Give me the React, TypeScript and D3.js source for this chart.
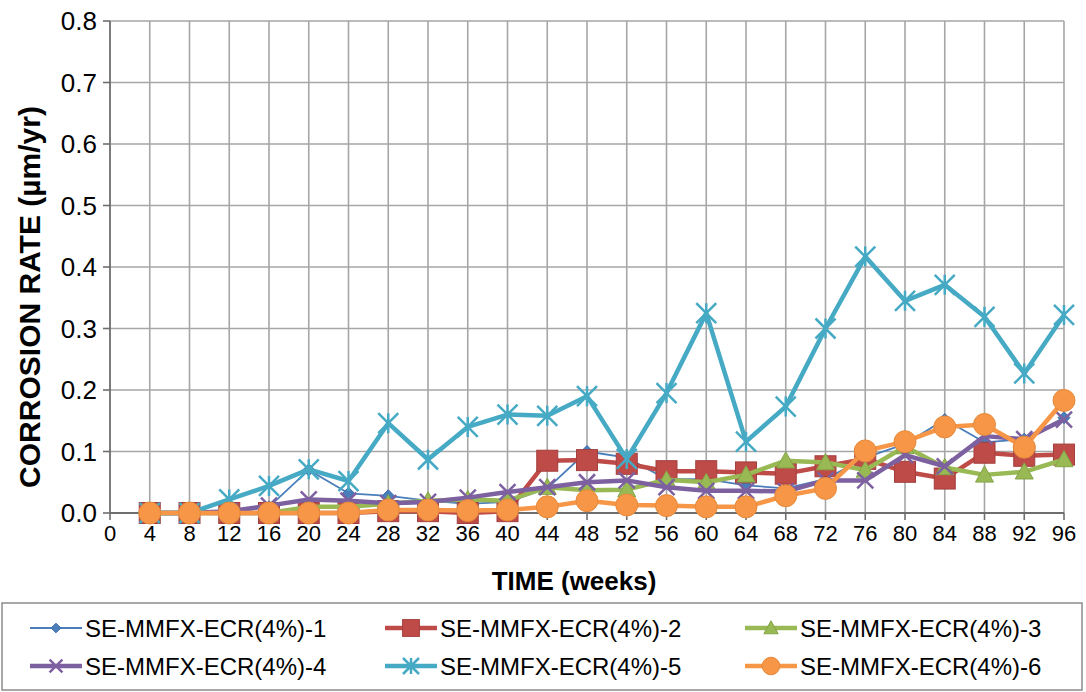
import React from "react";
import * as d3 from "d3";

const weeks = [4, 8, 12, 16, 20, 24, 28, 32, 36, 40, 44, 48, 52, 56, 60, 64, 68, 72, 76, 80, 84, 88, 92, 96];
const s1 = [0, 0, 0, 0.01, 0.07, 0.032, 0.028, 0.02, 0.015, 0.018, 0.04, 0.1, 0.09, 0.055, 0.055, 0.045, 0.04, 0.055, 0.09, 0.112, 0.152, 0.115, 0.12, 0.155];
const s2 = [0, 0, 0, 0, 0, 0, 0.003, 0.003, 0, 0.003, 0.085, 0.086, 0.08, 0.068, 0.068, 0.066, 0.064, 0.076, 0.088, 0.067, 0.056, 0.098, 0.093, 0.095];
const s3 = [0, 0, 0, 0, 0.01, 0.01, 0.015, 0.02, 0.022, 0.02, 0.042, 0.037, 0.038, 0.054, 0.05, 0.062, 0.085, 0.082, 0.07, 0.108, 0.074, 0.062, 0.067, 0.087];
const s4 = [0, 0, 0.003, 0.012, 0.022, 0.02, 0.016, 0.018, 0.025, 0.034, 0.042, 0.05, 0.053, 0.042, 0.036, 0.036, 0.035, 0.053, 0.053, 0.094, 0.076, 0.125, 0.12, 0.152];
const s5 = [0, 0, 0.022, 0.044, 0.071, 0.052, 0.146, 0.087, 0.14, 0.16, 0.158, 0.19, 0.088, 0.195, 0.325, 0.116, 0.173, 0.3, 0.417, 0.345, 0.371, 0.319, 0.227, 0.322];
const s6 = [0, 0, 0, 0, 0, 0, 0.005, 0.005, 0.004, 0.005, 0.01, 0.02, 0.013, 0.012, 0.01, 0.01, 0.028, 0.04, 0.101, 0.116, 0.14, 0.144, 0.107, 0.183];

const seriesNames = [
  "SE-MMFX-ECR(4%)-1",
  "SE-MMFX-ECR(4%)-2",
  "SE-MMFX-ECR(4%)-3",
  "SE-MMFX-ECR(4%)-4",
  "SE-MMFX-ECR(4%)-5",
  "SE-MMFX-ECR(4%)-6",
];
const seriesValues = [s1, s2, s3, s4, s5, s6];
const xTicks = [0, 4, 8, 12, 16, 20, 24, 28, 32, 36, 40, 44, 48, 52, 56, 60, 64, 68, 72, 76, 80, 84, 88, 92, 96];
const yTicks = [0, 0.1, 0.2, 0.3, 0.4, 0.5, 0.6, 0.7, 0.8];

type Style = { color: string; edge: string; width: number; marker: string; size: number };
const styles: Style[] = [
  { color: "#4A7EBB", edge: "#3A6AA6", width: 1.8, marker: "diamond", size: 12 },
  { color: "#BE4B48", edge: "#A33F3C", width: 4.5, marker: "square", size: 21 },
  { color: "#98B954", edge: "#84A447", width: 4.5, marker: "triangle", size: 18 },
  { color: "#7D60A0", edge: "#7D60A0", width: 4.5, marker: "x", size: 16 },
  { color: "#46AAC5", edge: "#3E9DB7", width: 4.5, marker: "star", size: 20 },
  { color: "#F79646", edge: "#E58A3C", width: 4.5, marker: "circle", size: 22 },
];

const FONT = "Arial, 'Liberation Sans', Helvetica, sans-serif";

function Marker({ cx, cy, st }: { cx: number; cy: number; st: Style }) {
  const h = st.size / 2;
  if (st.marker === "diamond") {
    return <path d={`M${cx},${cy - h}L${cx + h},${cy}L${cx},${cy + h}L${cx - h},${cy}Z`} fill={st.color} stroke={st.edge} strokeWidth={1} />;
  }
  if (st.marker === "square") {
    return <rect x={cx - h} y={cy - h} width={st.size} height={st.size} fill={st.color} stroke={st.edge} strokeWidth={1} />;
  }
  if (st.marker === "triangle") {
    return <path d={`M${cx},${cy - h}L${cx + h},${cy + h * 0.8}L${cx - h},${cy + h * 0.8}Z`} fill={st.color} stroke={st.edge} strokeWidth={1} />;
  }
  if (st.marker === "x") {
    return <path d={`M${cx - h},${cy - h}L${cx + h},${cy + h}M${cx - h},${cy + h}L${cx + h},${cy - h}`} stroke={st.color} strokeWidth={2.5} fill="none" />;
  }
  if (st.marker === "star") {
    return <path d={`M${cx - h},${cy - h}L${cx + h},${cy + h}M${cx - h},${cy + h}L${cx + h},${cy - h}M${cx},${cy - h}L${cx},${cy + h}`} stroke={st.color} strokeWidth={2.5} fill="none" />;
  }
  return <circle cx={cx} cy={cy} r={h} fill={st.color} stroke={st.edge} strokeWidth={1} />;
}

export default function App() {
  const W = 1086;
  const H = 692;
  const left = 110;
  const right = 1064;
  const top = 21;
  const bottom = 513;

  const x = d3.scaleLinear().domain([0, 96]).range([left, right]);
  const y = d3.scaleLinear().domain([0, 0.8]).range([bottom, top]);

  const line = d3
    .line<number>()
    .x((_, i) => x(weeks[i]))
    .y((d) => y(d));

  const legendCols = [30, 385, 745];
  const legendRows = [628, 666];

  return (
    <svg width={W} height={H} style={{ position: "absolute", left: 0, top: 0, background: "#fff" }} fontFamily={FONT}>
      <rect x={0} y={0} width={W} height={H} fill="#fff" />
      {/* grid */}
      {xTicks.slice(1).map((t) => (
        <line key={"gx" + t} x1={x(t)} x2={x(t)} y1={top} y2={bottom} stroke="#A6A6A6" strokeWidth={1.6} />
      ))}
      {yTicks.slice(1).map((t) => (
        <line key={"gy" + t} x1={left} x2={right} y1={y(t)} y2={y(t)} stroke="#A6A6A6" strokeWidth={1.6} />
      ))}
      {/* axes */}
      <line x1={left} x2={left} y1={top} y2={bottom} stroke="#6E6E6E" strokeWidth={1.8} />
      <line x1={left} x2={right} y1={bottom} y2={bottom} stroke="#6E6E6E" strokeWidth={1.8} />
      {yTicks.map((t) => (
        <g key={"yt" + t}>
          <line x1={left - 7} x2={left} y1={y(t)} y2={y(t)} stroke="#6E6E6E" strokeWidth={1.6} />
          <text x={97} y={y(t)} dy="0.36em" textAnchor="end" fontSize={26} fill="#000">
            {d3.format(".1f")(t)}
          </text>
        </g>
      ))}
      {xTicks.map((t) => (
        <g key={"xt" + t}>
          <line x1={x(t)} x2={x(t)} y1={bottom} y2={bottom + 7} stroke="#6E6E6E" strokeWidth={1.6} />
          <text x={x(t)} y={541} textAnchor="middle" fontSize={22} fill="#000">
            {t}
          </text>
        </g>
      ))}
      <text x={574} y={590} textAnchor="middle" fontSize={26} fontWeight="bold" fill="#000">
        TIME (weeks)
      </text>
      <text
        transform={`translate(40,${(top + bottom) / 2 + 30}) rotate(-90)`}
        textAnchor="middle"
        fontSize={30}
        fontWeight="bold"
        fill="#000"
      >
        CORROSION RATE (µm/yr)
      </text>

      {/* series */}
      {seriesValues.map((vals, si) => (
        <g key={"s" + si}>
          <path d={line(vals) || ""} fill="none" stroke={styles[si].color} strokeWidth={styles[si].width} strokeLinejoin="round" />
          {vals.map((v, i) => (
            <Marker key={i} cx={x(weeks[i])} cy={y(v)} st={styles[si]} />
          ))}
        </g>
      ))}

      {/* legend */}
      <rect x={2} y={603} width={1080} height={87} fill="#fff" stroke="#8C8C8C" strokeWidth={1.5} />
      {seriesNames.map((name, i) => {
        const cx = legendCols[i % 3];
        const cy = legendRows[Math.floor(i / 3)];
        const st = styles[i];
        const lsize = { ...st, size: st.size * 0.8 };
        return (
          <g key={"lg" + i}>
            <line x1={cx} x2={cx + 52} y1={cy} y2={cy} stroke={st.color} strokeWidth={st.width} />
            <Marker cx={cx + 26} cy={cy} st={lsize} />
            <text x={cx + 55} y={cy} dy="0.36em" fontSize={24} fill="#000">
              {name}
            </text>
          </g>
        );
      })}
    </svg>
  );
}
